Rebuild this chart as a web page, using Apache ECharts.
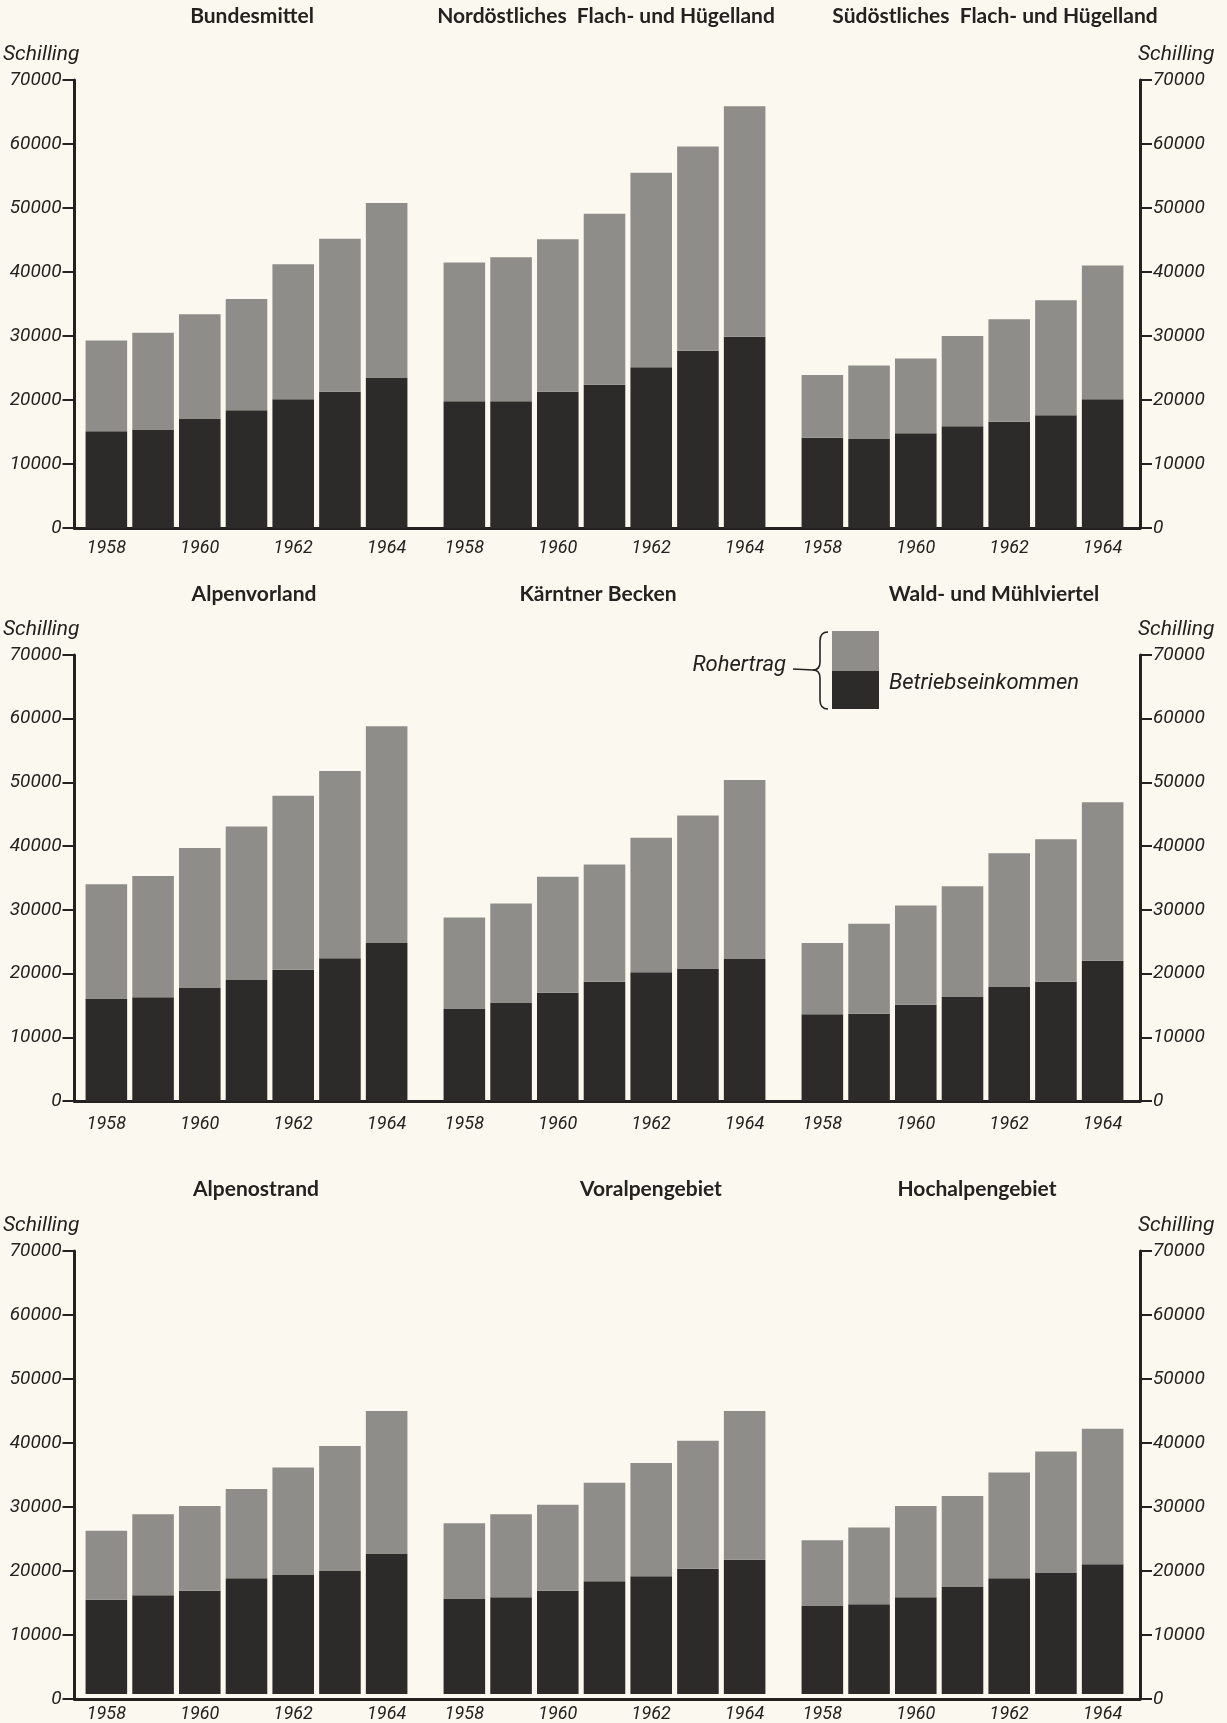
<!DOCTYPE html>
<html>
<head>
<meta charset="utf-8">
<script src="https://cdn.jsdelivr.net/npm/echarts@6/dist/echarts.min.js"></script>
<style>
html,body{margin:0;padding:0;background:#fbf9ef;}
#chart{width:1227px;height:1723px;}
</style>
</head>
<body>
<div id="chart"></div>
<script>
// ---------- DATA ----------
const years = ['1958', '1959', '1960', '1961', '1962', '1963', '1964'];
const yTicks = [0, 10000, 20000, 30000, 40000, 50000, 60000, 70000];
const unitLabel = 'Schilling';
const seriesNames = ['Betriebseinkommen', 'Rohertrag'];
const regionNames = [
  'Bundesmittel', 'Nordöstliches  Flach- und Hügelland', 'Südöstliches  Flach- und Hügelland',
  'Alpenvorland', 'Kärntner Becken', 'Wald- und Mühlviertel',
  'Alpenostrand', 'Voralpengebiet', 'Hochalpengebiet'
];

// Rohertrag (total bar height) and Betriebseinkommen (dark lower part), Schilling
const bundesmittelRoh = [29300, 30500, 33400, 35800, 41200, 45200, 50800];
const bundesmittelBE  = [15100, 15400, 17100, 18400, 20100, 21300, 23500];
const nordostRoh      = [41500, 42300, 45100, 49100, 55500, 59600, 65900];
const nordostBE       = [19800, 19800, 21300, 22400, 25100, 27700, 29900];
const suedostRoh      = [23900, 25400, 26500, 30000, 32600, 35600, 41000];
const suedostBE       = [14100, 13900, 14800, 15900, 16600, 17600, 20100];

const alpenvorlandRoh = [34000, 35300, 39700, 43100, 47900, 51800, 58800];
const alpenvorlandBE  = [16100, 16300, 17800, 19000, 20600, 22400, 24800];
const kaerntenRoh     = [28800, 31000, 35200, 37100, 41300, 44800, 50400];
const kaerntenBE      = [14500, 15400, 17000, 18700, 20200, 20800, 22300];
const waldRoh         = [24800, 27800, 30700, 33700, 38900, 41100, 46900];
const waldBE          = [13600, 13700, 15100, 16400, 17900, 18700, 22000];

const alpenostrandRoh = [25800, 28400, 29700, 32400, 35800, 39200, 44700];
const alpenostrandBE  = [14900, 15600, 16300, 18300, 18800, 19500, 22200];
const voralpenRoh     = [27000, 28400, 29900, 33400, 36500, 40000, 44700];
const voralpenBE      = [15100, 15300, 16300, 17800, 18600, 19800, 21200];
const hochalpenRoh    = [24300, 26300, 29700, 31300, 35000, 38300, 41900];
const hochalpenBE     = [14000, 14200, 15300, 17000, 18300, 19200, 20500];

const rohByRegion = [bundesmittelRoh, nordostRoh, suedostRoh, alpenvorlandRoh, kaerntenRoh, waldRoh, alpenostrandRoh, voralpenRoh, hochalpenRoh];
const beByRegion  = [bundesmittelBE, nordostBE, suedostBE, alpenvorlandBE, kaerntenBE, waldBE, alpenostrandBE, voralpenBE, hochalpenBE];

// ---------- STYLE / LAYOUT ----------
const INK = '#232220';
const LIGHT = '#8e8d89';
const DARK = '#2c2b29';
const ITAL = 'Roboto, "Liberation Sans", sans-serif';
const TITLEFONT = 'Lato, "Open Sans", sans-serif';

const rowTop = [80, 655, 1251];
const rowH = [448, 446, 448];
const panelLeft = [83, 441, 799];
const panelW = 327;
const frameLeft = 72, frameRight = 1140;
const titlePos = [[252, 16], [606, 16], [995, 16], [254, 594], [598, 594], [994, 594], [256, 1189], [651, 1189], [977, 1189]];

const grids = [], xAxes = [], yAxes = [], series = [], graphics = [];

// frame grids (axes + baseline) per row
for (let r = 0; r < 3; r++) {
  grids.push({left: frameLeft, top: rowTop[r], width: frameRight - frameLeft, height: rowH[r]});
  xAxes.push({gridIndex: r, type: 'value', min: 0, max: 1,
    axisLine: {show: true, lineStyle: {color: INK, width: 3}},
    axisTick: {show: false}, axisLabel: {show: false}, splitLine: {show: false}});
}
for (let side = 0; side < 2; side++) {
  for (let r = 0; r < 3; r++) {
    yAxes.push({gridIndex: r, type: 'value', position: side === 0 ? 'left' : 'right',
      min: yTicks[0], max: yTicks[yTicks.length - 1], interval: yTicks[1] - yTicks[0],
      name: unitLabel, nameLocation: 'end', nameGap: 15,
      nameTextStyle: {fontFamily: ITAL, fontStyle: 'italic', fontSize: 21, color: INK,
        align: side === 0 ? 'right' : 'left', padding: side === 0 ? [0, -5, 0, 0] : [0, 0, 0, -2]},
      axisLine: {show: true, lineStyle: {color: INK, width: 3}},
      axisTick: {show: true, inside: false, length: 12, lineStyle: {color: INK, width: 2}},
      axisLabel: {fontFamily: ITAL, fontStyle: 'italic', fontSize: 19, color: INK, margin: 13,
        formatter: v => String(v)},
      splitLine: {show: false}});
  }
}

// panels
for (let i = 0; i < 9; i++) {
  const r = Math.floor(i / 3), c = i % 3;
  const g = grids.length;
  grids.push({left: panelLeft[c], top: rowTop[r], width: panelW, height: rowH[r]});
  const xi = xAxes.length;
  xAxes.push({gridIndex: g, type: 'category', data: years,
    axisLine: {show: false}, axisTick: {show: false},
    axisLabel: {interval: 1, fontFamily: ITAL, fontStyle: 'italic', fontSize: 18, color: INK, margin: r === 1 ? 14 : 11}});
  const yi = yAxes.length;
  yAxes.push({gridIndex: g, type: 'value', min: 0, max: 70000, interval: 10000, show: false, splitLine: {show: false}});
  const roh = rohByRegion[i], be = beByRegion[i];
  series.push({type: 'bar', name: seriesNames[0], xAxisIndex: xi, yAxisIndex: yi, stack: 's' + i,
    barCategoryGap: '11%', itemStyle: {color: DARK}, data: be, silent: true});
  series.push({type: 'bar', name: seriesNames[1], xAxisIndex: xi, yAxisIndex: yi, stack: 's' + i,
    barCategoryGap: '11%', itemStyle: {color: LIGHT}, data: roh.map((v, k) => v - be[k]), silent: true});
  graphics.push({type: 'text', x: titlePos[i][0], y: titlePos[i][1],
    style: {text: regionNames[i], font: 'bold 21px ' + TITLEFONT, fill: INK, textAlign: 'center', textVerticalAlign: 'middle'}});
}

// legend (single split swatch with brace)
const braceStyle = {stroke: INK, lineWidth: 1.6, fill: null};
graphics.push({type: 'rect', shape: {x: 832, y: 631, width: 47, height: 40}, style: {fill: LIGHT}});
graphics.push({type: 'rect', shape: {x: 832, y: 671, width: 47, height: 38}, style: {fill: DARK}});
graphics.push({type: 'bezierCurve', shape: {x1: 828, y1: 632, x2: 820, y2: 641, cpx1: 820, cpy1: 632}, style: braceStyle});
graphics.push({type: 'line', shape: {x1: 820, y1: 641, x2: 820, y2: 662}, style: braceStyle});
graphics.push({type: 'bezierCurve', shape: {x1: 820, y1: 662, x2: 813, y2: 670, cpx1: 820, cpy1: 670}, style: braceStyle});
graphics.push({type: 'bezierCurve', shape: {x1: 813, y1: 670, x2: 820, y2: 678, cpx1: 820, cpy1: 670}, style: braceStyle});
graphics.push({type: 'line', shape: {x1: 820, y1: 678, x2: 820, y2: 700}, style: braceStyle});
graphics.push({type: 'bezierCurve', shape: {x1: 820, y1: 700, x2: 828, y2: 709, cpx1: 820, cpy1: 709}, style: braceStyle});
graphics.push({type: 'line', shape: {x1: 793, y1: 669, x2: 813, y2: 670}, style: braceStyle});
graphics.push({type: 'text', x: 786, y: 665, style: {text: seriesNames[1], font: 'italic 22px ' + ITAL, fill: INK, textAlign: 'right', textVerticalAlign: 'middle'}});
graphics.push({type: 'text', x: 889, y: 683, style: {text: seriesNames[0], font: 'italic 22px ' + ITAL, fill: INK, textAlign: 'left', textVerticalAlign: 'middle'}});

const chart = echarts.init(document.getElementById('chart'), null, {renderer: 'canvas'});
chart.setOption({
  backgroundColor: '#fbf9ef',
  animation: false,
  grid: grids,
  xAxis: xAxes,
  yAxis: yAxes,
  series: series,
  graphic: graphics
});
</script>
</body>
</html>
